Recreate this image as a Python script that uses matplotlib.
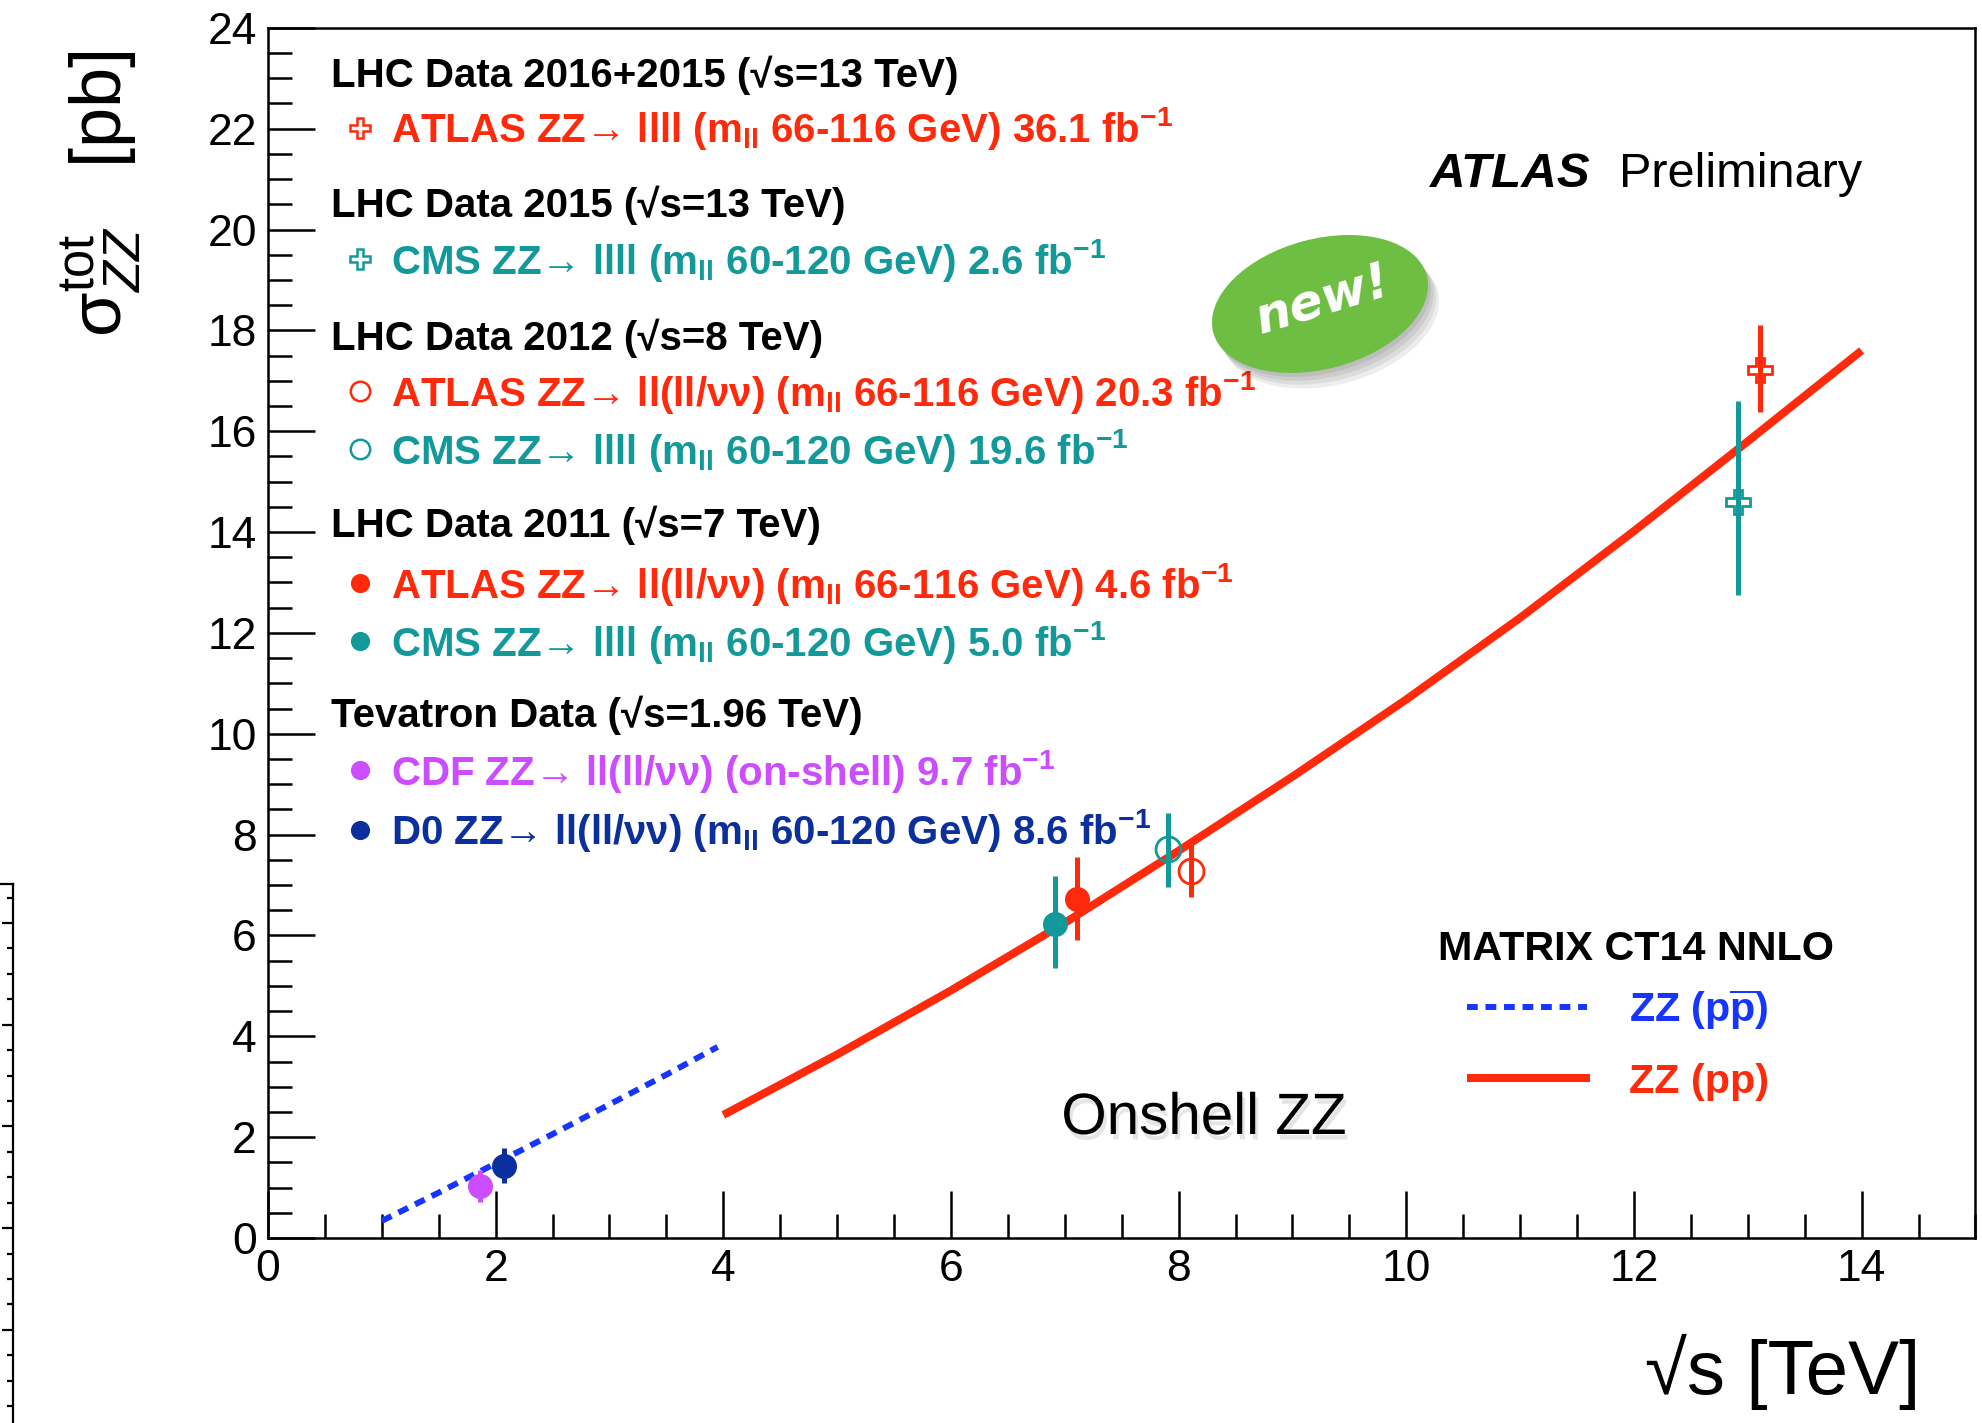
import matplotlib
matplotlib.use("Agg")
import matplotlib.pyplot as plt
from matplotlib.patches import Ellipse
from matplotlib.ticker import MultipleLocator
from matplotlib.transforms import IdentityTransform
import matplotlib.patheffects as pe

plt.rcParams['font.family'] = ['Liberation Sans', 'DejaVu Sans']
plt.rcParams['mathtext.fontset'] = 'custom'
plt.rcParams['mathtext.rm'] = 'Liberation Sans'
plt.rcParams['mathtext.it'] = 'Liberation Sans:italic'
plt.rcParams['mathtext.bf'] = 'Liberation Sans:bold'
plt.rcParams['mathtext.default'] = 'regular'

# ---------------- data ----------------
# MATRIX CT14 NNLO predictions
ppbar_sqrt_s = [1.0, 1.5, 2.0, 2.5, 3.0, 3.5, 3.95]
ppbar_xsec = [0.34, 0.90, 1.48, 2.06, 2.65, 3.24, 3.79]
pp_sqrt_s = [4.0, 5.0, 6.0, 7.0, 8.0, 9.0, 10.0, 11.0, 12.0, 13.0, 14.0]
pp_xsec = [2.44, 3.64, 4.91, 6.25, 7.68, 9.15, 10.68, 12.30, 14.02, 15.80, 17.60]

# Measurements (sqrt(s) shifted slightly for readability)
meas_names = ['CDF', 'D0', 'CMS 7 TeV', 'ATLAS 7 TeV', 'CMS 8 TeV',
              'ATLAS 8 TeV', 'CMS 13 TeV', 'ATLAS 13 TeV']
meas_sqrt_s = [1.86, 2.07, 6.91, 7.11, 7.91, 8.11, 12.91, 13.11]
meas_xsec = [1.03, 1.43, 6.23, 6.73, 7.71, 7.27, 14.60, 17.21]
meas_err_up = [0.32, 0.36, 0.94, 0.83, 0.71, 0.53, 1.99, 0.90]
meas_err_dn = [0.32, 0.34, 0.88, 0.82, 0.75, 0.50, 1.85, 0.82]

group_headers = [
    'LHC Data 2016+2015 (√s=13 TeV)',
    'LHC Data 2015 (√s=13 TeV)',
    'LHC Data 2012 (√s=8 TeV)',
    'LHC Data 2011 (√s=7 TeV)',
    'Tevatron Data (√s=1.96 TeV)',
]
entry_labels = [
    r'ATLAS ZZ→ llll ($m_{ll}$ 66-116 GeV) 36.1 $fb^{-1}$',
    r'CMS ZZ→ llll ($m_{ll}$ 60-120 GeV) 2.6 $fb^{-1}$',
    r'ATLAS ZZ→ ll(ll/νν) ($m_{ll}$ 66-116 GeV) 20.3 $fb^{-1}$',
    r'CMS ZZ→ llll ($m_{ll}$ 60-120 GeV) 19.6 $fb^{-1}$',
    r'ATLAS ZZ→ ll(ll/νν) ($m_{ll}$ 66-116 GeV) 4.6 $fb^{-1}$',
    r'CMS ZZ→ llll ($m_{ll}$ 60-120 GeV) 5.0 $fb^{-1}$',
    r'CDF ZZ→ ll(ll/νν) (on-shell) 9.7 $fb^{-1}$',
    r'D0 ZZ→ ll(ll/νν) ($m_{ll}$ 60-120 GeV) 8.6 $fb^{-1}$',
]

# ---------------- style ----------------
RED = '#ff2a0c'
TEAL = '#14999a'
MAGENTA = '#cc4cff'
NAVY = '#0b2f9c'
BLUE = '#1636ff'

meas_color = [MAGENTA, NAVY, TEAL, RED, TEAL, RED, TEAL, RED]
meas_marker = ['o', 'o', 'o', 'o', 'o', 'o', 'P', 'P']
meas_open = [False, False, False, False, True, True, True, True]

W, H = 1983, 1423
fig = plt.figure(figsize=(W / 100, H / 100), dpi=100)
fig.patch.set_facecolor('white')


def fx(px):
    return px / W


def fy(py):
    return 1 - py / H


# fragment of a neighbouring frame at the far left
axl = fig.add_axes([fx(12.7 - 200), 0.0, fx(200), fy(884)])
axl.set_facecolor('none')
axl.set_xlim(0, 1)
axl.set_ylim(0.167, 10.767)
for s in ('left', 'bottom'):
    axl.spines[s].set_visible(False)
for s in ('right', 'top'):
    axl.spines[s].set_linewidth(1.6)
axl.set_xticks([])
axl.yaxis.set_major_locator(MultipleLocator(2))
axl.yaxis.set_minor_locator(MultipleLocator(0.5))
axl.yaxis.tick_right()
axl.tick_params(axis='y', which='both', direction='in', labelright=False,
                width=1.6)
axl.tick_params(axis='y', which='major', length=8)
axl.tick_params(axis='y', which='minor', length=4.5)

# main frame
ax = fig.add_axes([fx(268), fy(1238), fx(1975.5 - 268), (1238 - 27.8) / H])
ax.set_xlim(0, 15)
ax.set_ylim(0, 24)
ax.xaxis.set_major_locator(MultipleLocator(2))
ax.xaxis.set_minor_locator(MultipleLocator(0.5))
ax.yaxis.set_major_locator(MultipleLocator(2))
ax.yaxis.set_minor_locator(MultipleLocator(0.5))
ax.tick_params(which='both', direction='in', top=False, right=False,
               width=1.8, labelsize=32, pad=8)
ax.tick_params(which='major', length=34)
ax.tick_params(which='minor', length=17)
for s in ax.spines.values():
    s.set_linewidth(1.8)

# theory curves
ax.plot(ppbar_sqrt_s, ppbar_xsec, color=BLUE, lw=4.3,
        linestyle=(0, (1.8, 1.3)), dash_capstyle='butt', zorder=3)
ax.plot(pp_sqrt_s, pp_xsec, color=RED, lw=5.8, solid_capstyle='butt',
        solid_joinstyle='round', zorder=3)

# measurements
for i in range(len(meas_sqrt_s)):
    c = meas_color[i]
    ms = 17 if meas_marker[i] == 'P' else (18 if meas_open[i] else 16)
    ax.errorbar([meas_sqrt_s[i]], [meas_xsec[i]],
                yerr=[[meas_err_dn[i]], [meas_err_up[i]]],
                fmt=meas_marker[i], color=c, ecolor=c, elinewidth=3.6,
                capsize=0, ms=ms, mec=c,
                mfc='none' if meas_open[i] else c, mew=2.0, zorder=5)

# legend block (header rows and entries)
LEG_FS = 29
header_center = [72.1, 202.4, 335.1, 522.3, 712.0]
for txt, yc in zip(group_headers, header_center):
    fig.text(fx(331), fy(yc + 14.7), txt, fontsize=LEG_FS, fontweight='bold',
             color='black', ha='left', va='baseline')

entry_center = [127.7, 259.3, 390.8, 449.0, 583.0, 641.2, 770.2, 829.7]
entry_meas = [7, 6, 5, 4, 3, 2, 0, 1]
for txt, yc, k in zip(entry_labels, entry_center, entry_meas):
    c = meas_color[k]
    fig.text(fx(391), fy(yc + 14.7), txt, fontsize=LEG_FS, fontweight='bold',
             color=c, ha='left', va='baseline')
    msz = 14 if meas_marker[k] == 'P' else (14 if meas_open[k] else 12)
    fig.add_artist(plt.Line2D([fx(360)], [fy(yc)], marker=meas_marker[k],
                              ms=msz, color=c, mec=c, mew=1.8,
                              mfc='none' if meas_open[k] else c,
                              linestyle='none'))

# theory legend
TH_FS = 29.7
fig.text(fx(1438), fy(960), 'MATRIX CT14 NNLO', fontsize=TH_FS,
         fontweight='bold', ha='left', va='baseline')
fig.add_artist(plt.Line2D([fx(1467), fx(1587)], [fy(1006.7), fy(1006.7)],
                          color=BLUE, lw=4.3, linestyle=(0, (1.8, 1.3)),
                          dash_capstyle='butt'))
fig.add_artist(plt.Line2D([fx(1467), fx(1590)], [fy(1077.5), fy(1077.5)],
                          color=RED, lw=5.8, solid_capstyle='butt'))
fig.text(fx(1629), fy(1022), r'ZZ (p$\overline{p}$)', fontsize=TH_FS,
         fontweight='bold', color=BLUE, ha='left', va='baseline')
fig.text(fx(1629), fy(1093), 'ZZ (pp)', fontsize=TH_FS,
         fontweight='bold', color=RED, ha='left', va='baseline')

# ATLAS label
fig.text(fx(1429), fy(187), 'ATLAS', fontsize=35.5, fontweight='bold',
         fontstyle='italic', ha='left', va='baseline')
fig.text(fx(1619), fy(187), 'Preliminary', fontsize=35, ha='left',
         va='baseline')

# process label
fig.text(fx(1204), fy(1119), 'Onshell ZZ', fontsize=42, ha='center',
         va='center',
         path_effects=[pe.withSimplePatchShadow(offset=(2, -4),
                                                shadow_rgbFace='0.55',
                                                alpha=0.22)])

# "new!" badge with a soft drop shadow
shadow = [pe.SimplePatchShadow(offset=(o, -1.4 * o), shadow_rgbFace='black',
                               alpha=0.07) for o in (2, 4, 6, 8)]
badge = Ellipse((1320, H - 304), width=221, height=130, angle=15,
                transform=IdentityTransform(), facecolor='#6fbe44',
                edgecolor='none', zorder=10,
                path_effects=shadow + [pe.Normal()])
fig.add_artist(badge)
fig.text(fx(1322), fy(300), 'new!', fontsize=36, fontweight='bold',
         fontstyle='italic', color='white', rotation=17, ha='center',
         va='center', family=['DejaVu Sans'], zorder=11)

# axis titles
fig.text(fx(1920), fy(1372), '√s [TeV]', fontsize=55, ha='right',
         va='center')
fig.text(fx(101), fy(50), r'$\sigma^{tot}_{\mathit{ZZ}}\quad$[pb]',
         fontsize=52, rotation=90, ha='center', va='top')

fig.savefig('out.png', dpi=100)
